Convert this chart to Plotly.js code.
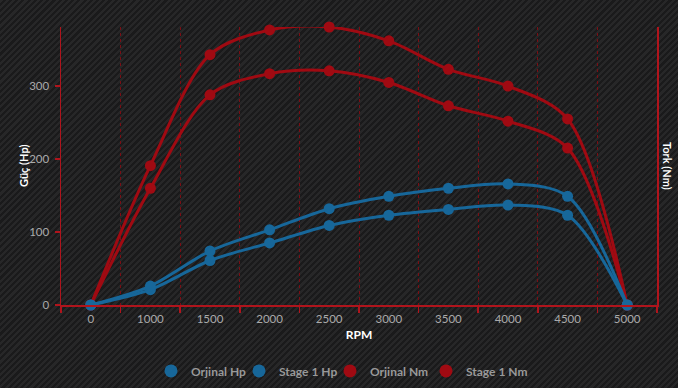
<!DOCTYPE html>
<html>
<head>
<meta charset="utf-8">
<script src="https://cdn.plot.ly/plotly-3.0.1.min.js"></script>
<style>
html,body{margin:0;padding:0;}
body{width:678px;height:388px;overflow:hidden;
background:repeating-linear-gradient(135deg,#272728 0px,#272728 2.2px,#1a1a1b 2.2px,#1a1a1b 4.4px);}
#chart{width:678px;height:388px;}
</style>
</head>
<body>
<div id="chart"></div>
<script>
const rpm = ['0','1000','1500','2000','2500','3000','3500','4000','4500','5000'];
const orjinalHp = [0, 21, 61, 85, 109, 123, 131, 137, 123, 0];
const stage1Hp  = [0, 26, 74, 103, 132, 149, 160, 166, 149, 0];
const orjinalNm = [0, 160, 288, 317, 321, 305, 273, 252, 215, 0];
const stage1Nm  = [0, 191, 343, 377, 381, 362, 323, 300, 255, 0];
const seriesNames = ['Orjinal Hp', 'Stage 1 Hp', 'Orjinal Nm', 'Stage 1 Nm'];

const BLUE = '#17679a';
const RED = '#a00a12';

function line(y, color, name){
  return {x: rpm, y: y, name: name, type: 'scatter', mode: 'lines+markers',
    line: {color: color, width: 3, shape: 'spline', smoothing: 0.9},
    marker: {color: color, size: 11}, cliponaxis: false,
    showlegend: false, hoverinfo: 'x+y+name'};
}
function legendItem(color, name, lg){
  return {x: [null], y: [null], name: name, type: 'scatter', mode: 'markers',
    marker: {color: color, size: 13}, showlegend: true, legend: lg};
}

const data = [
  line(orjinalNm, RED, seriesNames[2]),
  line(stage1Nm, RED, seriesNames[3]),
  line(orjinalHp, BLUE, seriesNames[0]),
  line(stage1Hp, BLUE, seriesNames[1]),
  legendItem(BLUE, seriesNames[0], 'legend'),
  legendItem(BLUE, seriesNames[1], 'legend2'),
  legendItem(RED, seriesNames[2], 'legend3'),
  legendItem(RED, seriesNames[3], 'legend4')
];

function lg(px){
  return {orientation: 'h', x: px / 678, xref: 'container', xanchor: 'left',
    y: 0.044, yref: 'container', yanchor: 'middle', bgcolor: 'rgba(0,0,0,0)',
    font: {color: '#999999', size: 12, weight: 'bold'}, itemclick: false};
}

const layout = {
  width: 678, height: 388,
  paper_bgcolor: 'rgba(0,0,0,0)', plot_bgcolor: 'rgba(0,0,0,0)',
  margin: {l: 61, r: 21, t: 27, b: 83, autoexpand: false},
  font: {family: 'Lato, "Open Sans", sans-serif', color: '#aaaaaa', size: 11},
  xaxis: {
    type: 'category', range: [-0.5, 9.5], tickson: 'boundaries',
    showline: true, linecolor: '#b0141c', linewidth: 1.5,
    ticks: 'outside', ticklen: 6, tickcolor: '#b0141c', tickwidth: 1.5,
    showgrid: true, gridcolor: '#7a0e14', griddash: 'dot', gridwidth: 1,
    tickfont: {color: '#aaaaaa', size: 11.5}, zeroline: false, automargin: false,
    ticklabelstandoff: 3,
    title: {text: 'RPM', font: {color: '#ffffff', size: 12, weight: 'bold'}, standoff: 6}
  },
  yaxis: {
    range: [0, 381], tickvals: [0, 100, 200, 300],
    showline: true, linecolor: '#b0141c', linewidth: 1.5,
    ticks: 'outside', ticklen: 5, tickcolor: '#b0141c', tickwidth: 1.5,
    showgrid: false, zeroline: false, automargin: false, ticklabelstandoff: 3,
    tickfont: {color: '#aaaaaa', size: 11.5}
  },
  yaxis2: {
    overlaying: 'y', side: 'right', range: [0, 381],
    showline: true, linecolor: '#b0141c', linewidth: 1.5,
    showticklabels: false, ticks: '', showgrid: false, zeroline: false
  },
  showlegend: true,
  legend: lg(151), legend2: lg(239), legend3: lg(330), legend4: lg(426),
  annotations: [
    {text: 'Güç (Hp)', xref: 'paper', yref: 'paper', x: -0.078, y: 0.5, showarrow: false,
     textangle: -90, font: {color: '#ffffff', size: 11, weight: 'bold'}},
    {text: 'Tork (Nm)', xref: 'paper', yref: 'paper', x: 1.0185, y: 0.5, xanchor: 'center', showarrow: false,
     textangle: 90, font: {color: '#ffffff', size: 11, weight: 'bold'}}
  ]
};
data.push({x: [null], y: [null], yaxis: 'y2', showlegend: false, type: 'scatter', mode: 'lines'});
Plotly.newPlot('chart', data, layout, {displayModeBar: false, staticPlot: true});
</script>
</body>
</html>
